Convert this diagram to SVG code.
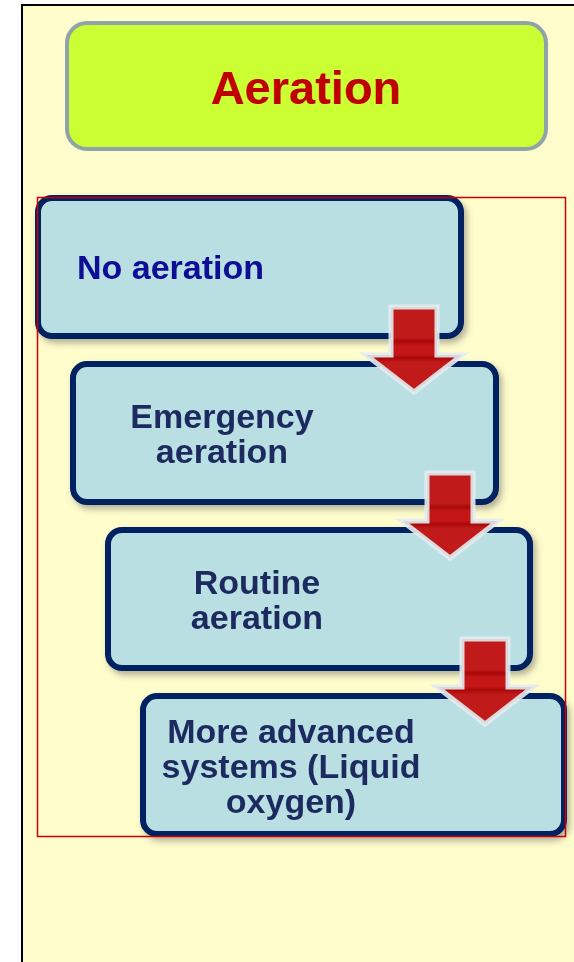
<svg xmlns="http://www.w3.org/2000/svg" width="574" height="962" viewBox="0 0 574 962">
<defs>
<style>
.box{fill:#B9DFE3;stroke:#002060;stroke-width:6}
.t{font-family:"Liberation Sans",Arial,sans-serif;font-weight:bold;font-size:34px;fill:#1A2B5E;text-anchor:middle}
.arrow{fill:url(#ag);stroke:#E2ECEF;stroke-width:5;stroke-linejoin:miter;stroke-opacity:0.9}
</style>
<linearGradient id="ag" x1="0" y1="0" x2="0" y2="1">
<stop offset="0" stop-color="#C11A1A"/>
<stop offset="0.36" stop-color="#C11A1A"/>
<stop offset="0.40" stop-color="#A80808"/>
<stop offset="0.45" stop-color="#C41616"/>
<stop offset="0.56" stop-color="#C41616"/>
<stop offset="0.60" stop-color="#A80808"/>
<stop offset="0.65" stop-color="#C11A1A"/>
<stop offset="1" stop-color="#C11A1A"/>
</linearGradient>
<filter id="sh" x="-10%" y="-10%" width="125%" height="130%">
<feDropShadow dx="3" dy="4" stdDeviation="3" flood-color="#555" flood-opacity="0.45"/>
</filter>
<path id="arr" d="M-23,0 H23 V48 H48 L0,85 L-48,48 H-23 Z"/>
</defs>
<rect x="0" y="0" width="574" height="962" fill="#FFFFFF"/>
<rect x="22" y="5" width="560" height="970" fill="#FFFDCC" stroke="#000" stroke-width="2"/>
<g id="title">
<rect x="67" y="23" width="479" height="126" rx="20" fill="#CCFF33" stroke="#8FA3A8" stroke-width="4"/>
<text x="306" y="104" font-family="Liberation Sans,Arial,sans-serif" font-weight="bold" font-size="47" fill="#C00000" text-anchor="middle">Aeration</text>
</g>
<g id="node1" filter="url(#sh)">
<rect class="box" x="38" y="198" width="423" height="138" rx="14"/>
<text class="t" x="77" y="279" style="text-anchor:start;fill:#0A0A96">No aeration</text>
</g>
<g id="node2" filter="url(#sh)">
<rect class="box" x="73" y="364" width="423" height="138" rx="14"/>
<text class="t" x="222" y="428">Emergency</text>
<text class="t" x="222" y="463">aeration</text>
</g>
<g id="node3" filter="url(#sh)">
<rect class="box" x="108" y="530" width="422" height="138" rx="14"/>
<text class="t" x="257" y="594">Routine</text>
<text class="t" x="257" y="629">aeration</text>
</g>
<g id="node4" filter="url(#sh)">
<rect class="box" x="143" y="696" width="421" height="138" rx="14"/>
<text class="t" x="291" y="743">More advanced</text>
<text class="t" x="291" y="778">systems (Liquid</text>
<text class="t" x="291" y="813">oxygen)</text>
</g>
<g id="connectors">
<use href="#arr" class="arrow" transform="translate(414,307)"/>
<use href="#arr" class="arrow" transform="translate(450,473)"/>
<use href="#arr" class="arrow" transform="translate(485,639)"/>
</g>
<rect id="frame" x="37.5" y="197.5" width="528" height="639" fill="none" stroke="#CC0000" stroke-width="1.5"/>
</svg>
